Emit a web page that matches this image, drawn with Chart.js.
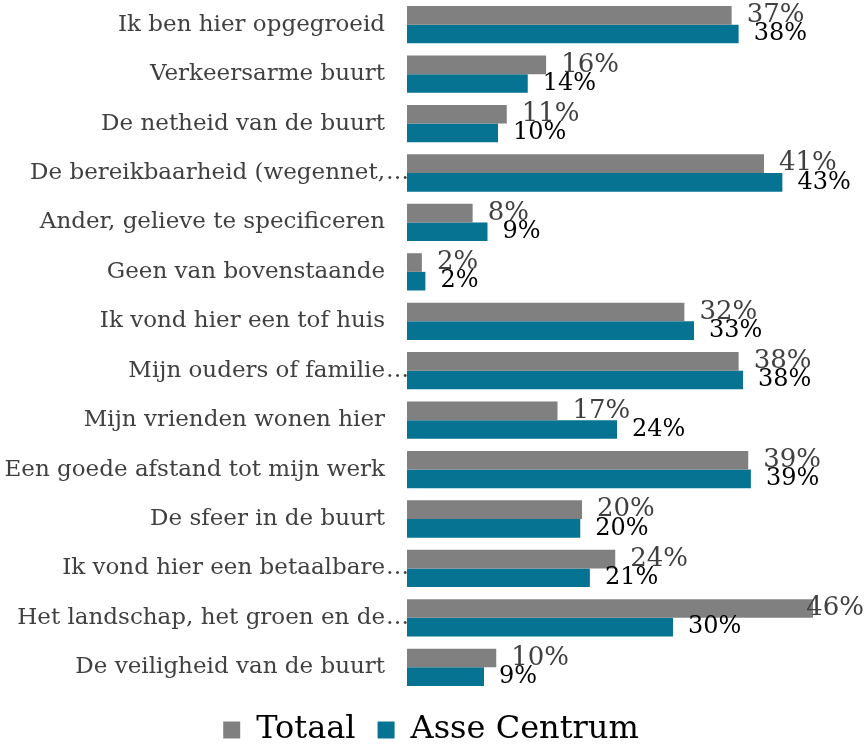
<!DOCTYPE html>
<html>
<head>
<meta charset="utf-8">
<script src="https://cdn.jsdelivr.net/npm/chart.js@4/dist/chart.umd.min.js"></script>
<style>
  html, body { margin: 0; padding: 0; background: #fff; }
  #wrap { width: 868px; height: 747px; position: relative; }
</style>
</head>
<body>
<div id="wrap"><canvas id="chart"></canvas></div>
<script>
// Categories as shown in the picture (truncated ones keep their ellipsis)
const categories = [
  'Ik ben hier opgegroeid',
  'Verkeersarme buurt',
  'De netheid van de buurt',
  'De bereikbaarheid (wegennet,…',
  'Ander, gelieve te specificeren',
  'Geen van bovenstaande',
  'Ik vond hier een tof huis',
  'Mijn ouders of familie…',
  'Mijn vrienden wonen hier',
  'Een goede afstand tot mijn werk',
  'De sfeer in de buurt',
  'Ik vond hier een betaalbare…',
  'Het landschap, het groen en de…',
  'De veiligheid van de buurt'
];

// Percentages
const totaal = [37.1, 15.9, 11.4, 40.8, 7.5, 1.7, 31.7, 37.9, 17.2, 39.0, 20.0, 23.8, 46.4, 10.2];
const asseCentrum = [37.9, 13.8, 10.4, 42.9, 9.2, 2.1, 32.8, 38.4, 24.0, 39.3, 19.8, 20.9, 30.4, 8.8];

const seriesNames = ['Totaal', 'Asse Centrum'];
const xMax = 52;

const FONT = "'DejaVu Serif', serif";
const LABEL_SIZE = 23;

// value labels next to each bar
const valueLabels = {
  id: 'valueLabels',
  afterDatasetsDraw(chart) {
    const ctx = chart.ctx;
    const styles = [
      { size: 26, color: '#404040' },
      { size: 24, color: '#000000' }
    ];
    chart.data.datasets.forEach((ds, di) => {
      const meta = chart.getDatasetMeta(di);
      const st = styles[di];
      ctx.save();
      ctx.font = st.size + 'px ' + FONT;
      ctx.fillStyle = st.color;
      ctx.textAlign = 'left';
      ctx.textBaseline = 'middle';
      meta.data.forEach((bar, i) => {
        const txt = Math.round(ds.data[i]) + '%';
        const w = ctx.measureText(txt).width;
        let x = bar.x + 15;
        if (x + w > chart.width - 4) x = chart.width - 4 - w;
        ctx.fillText(txt, x, bar.y);
      });
      ctx.restore();
    });
  }
};

// draws the ellipsis after truncated category labels
const ellipsis = {
  id: 'ellipsis',
  afterDraw(chart) {
    const ctx = chart.ctx;
    const yScale = chart.scales.y;
    ctx.save();
    ctx.font = LABEL_SIZE + 'px ' + FONT;
    ctx.fillStyle = '#404040';
    ctx.textAlign = 'left';
    ctx.textBaseline = 'middle';
    categories.forEach((c, i) => {
      if (c.endsWith('…')) {
        ctx.fillText('…', yScale.right - 21, yScale.getPixelForValue(i));
      }
    });
    ctx.restore();
  }
};

new Chart(document.getElementById('chart'), {
  type: 'bar',
  data: {
    labels: categories,
    datasets: [
      {
        label: seriesNames[0],
        data: totaal,
        backgroundColor: '#808080',
        categoryPercentage: 0.754,
        barPercentage: 1
      },
      {
        label: seriesNames[1],
        data: asseCentrum,
        backgroundColor: '#067393',
        categoryPercentage: 0.754,
        barPercentage: 1
      }
    ]
  },
  options: {
    indexAxis: 'y',
    responsive: true,
    maintainAspectRatio: false,
    animation: false,
    layout: { padding: { left: 0, right: 6, top: 0, bottom: 0 } },
    scales: {
      x: {
        display: false,
        min: 0,
        max: xMax
      },
      y: {
        grid: { display: false, drawTicks: false },
        border: { display: false },
        ticks: {
          padding: 22,
          color: '#404040',
          font: { family: FONT, size: LABEL_SIZE },
          callback(value) {
            return categories[value].replace('…', '');
          }
        },
        afterFit(scale) {
          scale.width = 407;
          scale.paddingTop = 0;
          scale.paddingBottom = 0;
        }
      }
    },
    plugins: {
      legend: {
        position: 'bottom',
        maxHeight: 55,
        labels: {
          boxWidth: 17,
          boxHeight: 17,
          padding: 22,
          color: '#000',
          font: { family: FONT, size: 32 }
        }
      },
      tooltip: { enabled: false }
    }
  },
  plugins: [valueLabels, ellipsis]
});
</script>
</body>
</html>
